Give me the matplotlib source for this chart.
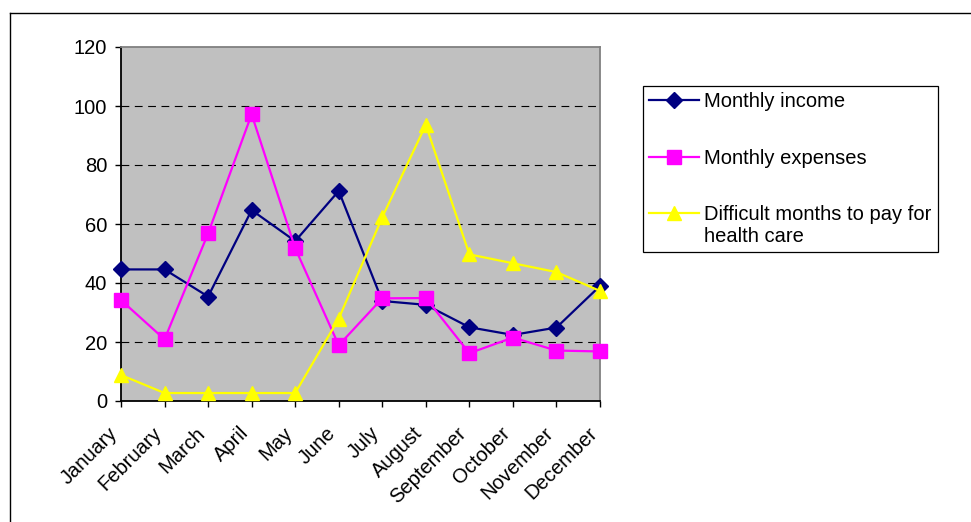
import numpy as np
import matplotlib
matplotlib.use("Agg")
import matplotlib.pyplot as plt
import matplotlib.transforms as mtransforms
from matplotlib.lines import Line2D

plt.rcParams["font.family"] = ["Liberation Sans", "DejaVu Sans"]

# monthly data
months = ["January", "February", "March", "April", "May", "June", "July",
          "August", "September", "October", "November", "December"]
income = [44.6, 44.6, 35.4, 64.7, 54.2, 71.2, 33.9, 32.6, 25.0, 22.4, 24.9, 39.0]
expenses = [34.2, 20.9, 56.8, 97.2, 51.8, 18.9, 34.8, 34.9, 16.2, 21.5, 17.1, 16.8]
difficult = [8.8, 2.7, 2.7, 2.7, 2.7, 27.9, 62.3, 93.6, 49.7, 46.7, 43.7, 37.3]
y_ticks = [0, 20, 40, 60, 80, 100, 120]

FS = 14.5
W, H = 971, 522
fig = plt.figure(figsize=(W / 100, H / 100), dpi=100)
fig.patch.set_facecolor("white")

# chart border (only top and left edges fall inside the image)
fig.add_artist(Line2D([10 / W, 10 / W], [0, 1 - 13 / H], transform=fig.transFigure,
                      color="black", lw=1.0))
fig.add_artist(Line2D([10 / W, 1], [1 - 13 / H, 1 - 13 / H], transform=fig.transFigure,
                      color="black", lw=1.0))

ax = fig.add_axes([121 / W, 1 - 401 / H, (600 - 121) / W, (401 - 47) / H])
ax.set_facecolor("#C0C0C0")

x = np.arange(len(months))
ax.plot(x, income, color="#000080", lw=1.6, marker="D", markersize=8.5,
        label="Monthly income", zorder=3, clip_on=False)
ax.plot(x, expenses, color="#FF00FF", lw=1.6, marker="s", markersize=9.5,
        label="Monthly expenses", zorder=3, clip_on=False)
ax.plot(x, difficult, color="#FFFF00", lw=1.6, marker="^", markersize=10.5,
        label="Difficult months to pay for\nhealth care", zorder=3, clip_on=False)

ax.set_xlim(0, 11)
ax.set_ylim(0, 120)
ax.set_xticks(x)
ax.set_xticklabels(months, rotation=45, ha="right", va="center",
                   rotation_mode="anchor", fontsize=FS)
ax.set_yticks(y_ticks)
ax.set_yticklabels([str(v) for v in y_ticks], fontsize=FS)
ax.tick_params(axis="both", direction="out", length=4, width=1, color="black")
ax.tick_params(axis="y", pad=6)
ax.tick_params(axis="x", pad=17)

# nudge the slanted month names a little to the left
shift = mtransforms.ScaledTranslation(-6 / 100, 0, fig.dpi_scale_trans)
for lbl in ax.get_xticklabels():
    lbl.set_transform(lbl.get_transform() + shift)

for v in y_ticks[1:-1]:
    ax.axhline(v, color="black", lw=0.8, ls=(0, (7, 5)), zorder=1)

for side in ["left", "bottom"]:
    ax.spines[side].set_color("black")
    ax.spines[side].set_linewidth(1.3)
for side in ["top", "right"]:
    ax.spines[side].set_color("#808080")
    ax.spines[side].set_linewidth(1.3)

leg = ax.legend(loc="upper left", bbox_to_anchor=(643 / W, 1 - 86 / H),
                bbox_transform=fig.transFigure, fontsize=FS, frameon=True,
                fancybox=False, edgecolor="black", framealpha=1,
                handlelength=2.5, handleheight=1.1, handletextpad=0.25,
                labelspacing=1.85, borderpad=0.3, borderaxespad=0)
leg.get_frame().set_linewidth(0.9)
# keep each legend symbol level with the first line of its label
for col in leg._legend_handle_box.get_children():
    for row in col.get_children():
        row.align = "top"

fig.savefig("out.png", dpi=100)
